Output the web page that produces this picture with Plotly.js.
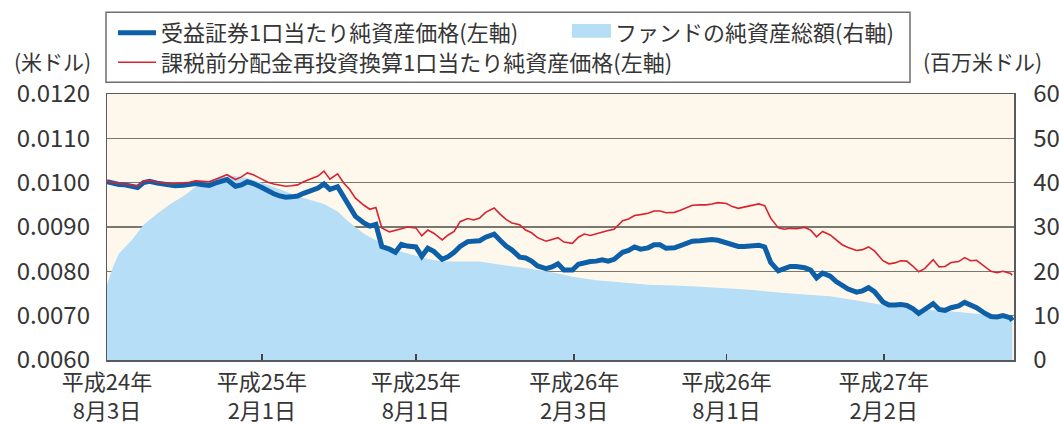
<!DOCTYPE html>
<html><head><meta charset="utf-8">
<script src="https://cdn.plot.ly/plotly-3.0.1.min.js"></script>
<style>html,body{margin:0;padding:0;background:#fff;}#chart{width:1059px;height:427px;}</style>
</head><body><div id="chart"></div>
<script>
const dates = [
'2012-08-03','2012-08-10','2012-08-17','2012-08-24',
'2012-09-01','2012-09-08','2012-09-15','2012-09-22',
'2012-10-01','2012-10-08','2012-10-15','2012-10-22',
'2012-11-01','2012-11-08','2012-11-15','2012-11-22',
'2012-12-01','2012-12-08','2012-12-15','2012-12-22',
'2013-01-01','2013-01-08','2013-01-15','2013-01-22',
'2013-02-01','2013-02-08','2013-02-15','2013-02-22',
'2013-03-01','2013-03-08','2013-03-15','2013-03-22',
'2013-04-01','2013-04-08','2013-04-15','2013-04-22',
'2013-05-01','2013-05-08','2013-05-15','2013-05-22',
'2013-06-01','2013-06-08','2013-06-15','2013-06-22',
'2013-07-01','2013-07-08','2013-07-15','2013-07-22',
'2013-08-01','2013-08-08','2013-08-15','2013-08-22',
'2013-09-01','2013-09-08','2013-09-15','2013-09-22',
'2013-10-01','2013-10-08','2013-10-15','2013-10-22',
'2013-11-01','2013-11-08','2013-11-15','2013-11-22',
'2013-12-01','2013-12-08','2013-12-15','2013-12-22',
'2014-01-01','2014-01-08','2014-01-15','2014-01-22',
'2014-02-01','2014-02-08','2014-02-15','2014-02-22',
'2014-03-01','2014-03-08','2014-03-15','2014-03-22',
'2014-04-01','2014-04-08','2014-04-15','2014-04-22',
'2014-05-01','2014-05-08','2014-05-15','2014-05-22',
'2014-06-01','2014-06-08','2014-06-15','2014-06-22',
'2014-07-01','2014-07-08','2014-07-15','2014-07-22',
'2014-08-01','2014-08-08','2014-08-15','2014-08-22',
'2014-09-01','2014-09-08','2014-09-15','2014-09-22',
'2014-10-01','2014-10-08','2014-10-15','2014-10-22',
'2014-11-01','2014-11-08','2014-11-15','2014-11-22',
'2014-12-01','2014-12-08','2014-12-15','2014-12-22',
'2015-01-01','2015-01-08','2015-01-15','2015-01-22',
'2015-02-01','2015-02-08','2015-02-15','2015-02-22',
'2015-03-01','2015-03-08','2015-03-15','2015-03-22',
'2015-04-01','2015-04-08','2015-04-15','2015-04-22',
'2015-05-01','2015-05-08','2015-05-15','2015-05-22',
'2015-06-01','2015-06-08','2015-06-15','2015-06-22',
'2015-07-01','2015-07-03'];

const navPerUnit = [
.01002,.00998,.00996,.00995,
.00992,.00989,.01000,.01003,
.00999,.00997,.00993,.00993,
.00994,.00996,.00998,.00996,
.00994,.00999,.01003,.01007,
.00992,.00995,.01002,.00998,
.00989,.00981,.00975,.00970,
.00967,.00968,.00970,.00976,
.00983,.00988,.00997,.00985,
.00991,.00968,.00946,.00924,
.00909,.00902,.00906,.00856,
.00850,.00843,.00861,.00857,
.00855,.00834,.00852,.00845,
.00827,.00833,.00843,.00856,
.00867,.00867,.00869,.00877,
.00884,.00870,.00857,.00848,
.00832,.00830,.00823,.00812,
.00806,.00810,.00817,.00803,
.00803,.00816,.00820,.00822,
.00823,.00826,.00823,.00827,
.00843,.00847,.00855,.00850,
.00853,.00860,.00860,.00852,
.00853,.00858,.00863,.00868,
.00869,.00870,.00872,.00870,
.00863,.00858,.00856,.00856,
.00857,.00859,.00855,.00820,
.00801,.00806,.00811,.00811,
.00808,.00803,.00785,.00796,
.00789,.00777,.00768,.00760,
.00753,.00756,.00763,.00754,
.00731,.00724,.00724,.00725,
.00723,.00716,.00705,.00714,
.00727,.00714,.00712,.00718,
.00722,.00730,.00725,.00718,
.00705,.00698,.00697,.00700,
.00695,.00689];

const navReinvested = [
.01003,.01000,.00998,.00997,
.00995,.00992,.01003,.01005,
.01001,.01000,.00997,.00998,
.00999,.01001,.01004,.01003,
.01002,.01007,.01012,.01018,
.01007,.01013,.01022,.01018,
.01008,.01001,.00997,.00994,
.00992,.00993,.00995,.01002,
.01009,.01015,.01026,.01008,
.01020,.01000,.00985,.00965,
.00949,.00940,.00944,.00898,
.00889,.00892,.00896,.00900,
.00898,.00880,.00893,.00886,
.00871,.00882,.00890,.00912,
.00919,.00916,.00920,.00933,
.00943,.00929,.00917,.00909,
.00905,.00893,.00887,.00876,
.00868,.00872,.00876,.00866,
.00863,.00877,.00884,.00881,
.00885,.00888,.00892,.00895,
.00914,.00918,.00926,.00928,
.00931,.00936,.00936,.00932,
.00933,.00938,.00944,.00949,
.00950,.00950,.00952,.00955,
.00953,.00946,.00942,.00945,
.00950,.00952,.00948,.00920,
.00898,.00895,.00897,.00896,
.00899,.00893,.00878,.00890,
.00882,.00872,.00860,.00854,
.00847,.00849,.00855,.00846,
.00824,.00817,.00819,.00824,
.00823,.00812,.00799,.00806,
.00826,.00810,.00811,.00820,
.00822,.00831,.00824,.00825,
.00810,.00800,.00797,.00800,
.00795,.00791];

const assetDates = [
'2012-08-03','2012-08-10','2012-08-17','2012-09-01','2012-09-15','2012-10-01','2012-10-15',
'2012-11-01','2012-11-15','2012-12-01','2012-12-15','2013-01-01','2013-01-15','2013-02-01',
'2013-02-15','2013-03-01','2013-03-15','2013-04-01','2013-04-15','2013-05-01','2013-05-15',
'2013-06-01','2013-06-15','2013-07-01','2013-07-15','2013-08-01','2013-08-15','2013-09-01',
'2013-09-15','2013-10-01','2013-10-15','2013-11-01','2013-11-15','2013-12-01','2013-12-15',
'2014-01-01','2014-01-15','2014-02-01','2014-03-01','2014-04-01','2014-05-01','2014-06-01',
'2014-07-01','2014-08-01','2014-09-01','2014-10-01','2014-11-01','2014-12-01','2015-01-01',
'2015-02-01','2015-03-01','2015-04-01','2015-05-01','2015-06-01','2015-07-03'];

const totalNetAssets = [
17,21,24,27,30.5,33,35,
37,39,40.5,41.2,41.5,41,40,
39,38,37,36,35.2,33.5,31,
28.5,27,25.3,24.4,23.5,22.8,22.3,
22.2,22.2,22.2,21.7,21.3,20.9,20.5,
20,19.5,18.8,18,17.5,17,16.8,
16.5,16.2,15.8,15.2,14.8,14.4,13.4,
12.4,11.6,11.2,10.8,10.2,9.6];

const tickDates = ['2012-08-03','2013-02-01','2013-08-01','2014-02-03','2014-08-01','2015-02-02'];
const tickLabels = ['平成24年<br>8月3日','平成25年<br>2月1日','平成25年<br>8月1日','平成26年<br>2月3日','平成26年<br>8月1日','平成27年<br>2月2日'];
const seriesNames = ['受益証券1口当たり純資産価格(左軸)','ファンドの純資産総額(右軸)','課税前分配金再投資換算1口当たり純資産価格(左軸)'];
const leftUnit = '(米ドル)';
const rightUnit = '(百万米ドル)';

const FONT = '"Noto Sans CJK JP", "Noto Sans", sans-serif';
const TXT = '#353535';
const L = 107, R = 1014, T = 90, B = 360;
const px = x => (x - L) / (R - L);
const py = y => (B - y) / (B - T);
const AREA = '#b6def6';

const traces = [
  {type:'scatter', x: assetDates, y: totalNetAssets, mode:'none', fill:'tozeroy', fillcolor: AREA,
   name: seriesNames[1], yaxis:'y', legend:'legend2', hoverinfo:'skip'},
  {type:'scatter', x: dates, y: navPerUnit, mode:'lines', line:{color:'#0d60a7', width:5},
   name: seriesNames[0], yaxis:'y2', legend:'legend', hoverinfo:'skip'},
  {type:'scatter', x: dates, y: navReinvested, mode:'lines', line:{color:'#d92230', width:1.6},
   name: seriesNames[2], yaxis:'y2', legend:'legend3', hoverinfo:'skip'}
];

const legendBase = {xanchor:'left', yanchor:'middle', bgcolor:'rgba(0,0,0,0)', borderwidth:0,
  itemwidth:38, orientation:'v', font:{family:FONT, size:22, color:TXT}};

const layout = {
  width:1059, height:427,
  margin:{l:L, r:1059-R, t:T, b:427-B, pad:0},
  paper_bgcolor:'#ffffff', plot_bgcolor:'#fef8ec',
  font:{family:FONT, size:22, color:TXT},
  showlegend:true, hovermode:false,
  xaxis:{type:'date', range:['2012-08-03','2015-07-05'], tickmode:'array', tickvals:tickDates, ticktext:tickLabels,
    ticks:'inside', ticklen:6, tickwidth:1.5, tickcolor:'#444', showgrid:false, zeroline:false,
    showline:true, linecolor:'#5a5a5a', linewidth:1.5, mirror:true, tickfont:{size:22, color:TXT},
    ticklabelstandoff:2, fixedrange:true},
  yaxis:{side:'right', range:[0,60], tick0:0, dtick:10, showgrid:true, gridcolor:'#78786f', gridwidth:1.6,
    zeroline:false, showline:true, linecolor:'#5a5a5a', linewidth:1.5, mirror:true, ticks:'',
    tickfont:{size:24, color:TXT}, ticklabelstandoff:13, fixedrange:true},
  yaxis2:{overlaying:'y', side:'left', range:[0.006,0.012], tick0:0.006, dtick:0.001, tickformat:'.4f',
    showgrid:false, zeroline:false, showline:false, ticks:'', tickfont:{size:24, color:TXT},
    ticklabelstandoff:16, fixedrange:true},
  legend: Object.assign({}, legendBase, {x:px(113), y:py(28)}),
  legend2: Object.assign({}, legendBase, {x:px(567), y:py(28)}),
  legend3: Object.assign({}, legendBase, {x:px(113), y:py(58)}),
  shapes:[
    {type:'rect', xref:'paper', yref:'paper', x0:px(106), x1:px(910), y0:py(78), y1:py(7),
     line:{color:'#6e6e6e', width:1.5}, fillcolor:'rgba(0,0,0,0)'},
    {type:'rect', xref:'paper', yref:'paper', x0:px(572), x1:px(611), y0:py(33), y1:py(19),
     line:{width:0}, fillcolor:AREA}
  ],
  annotations:[
    {text:leftUnit, xref:'paper', yref:'paper', x:px(52), y:py(56), showarrow:false,
     xanchor:'center', yanchor:'middle', font:{size:21, color:TXT}},
    {text:rightUnit, xref:'paper', yref:'paper', x:px(982), y:py(57), showarrow:false,
     xanchor:'center', yanchor:'middle', font:{size:21, color:TXT}}
  ]
};

Plotly.newPlot('chart', traces, layout, {displayModeBar:false, staticPlot:true});
</script>
</body></html>
